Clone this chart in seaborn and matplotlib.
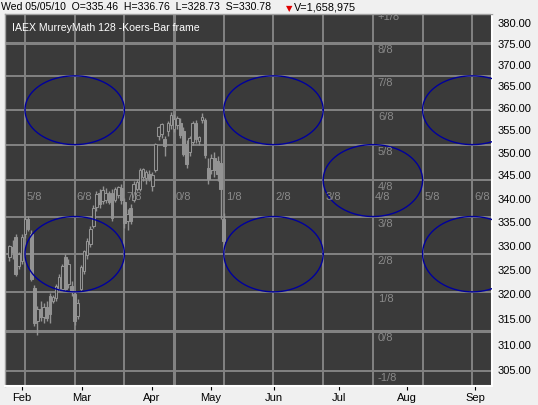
import matplotlib
matplotlib.use("Agg")
import matplotlib.pyplot as plt
import matplotlib.ticker as mticker
import seaborn as sns
import numpy as np
import pandas as pd

# ---- data: daily bars, bar 0 = first Murrey time line ----
bar_start = -5
opens = [327.5, 329.5, 331.6, 325.6, 326.6, 332.2, 335.4, 332.2, 321.0, 314.5,
         316.8, 315.2, 317.2, 319.4, 318.4, 319.0, 320.9, 320.9, 327.4, 321.9,
         321.5, 319.8, 315.5, 320.9, 324.6, 327.8, 330.2, 334.0, 338.0, 341.0,
         339.3, 339.5, 341.0, 341.0, 339.5, 340.5, 342.0, 339.0, 335.0, 337.8,
         339.5, 341.8, 341.8, 344.5, 344.2, 345.0, 342.5, 346.0, 353.4, 353.9,
         352.8, 354.5, 356.0, 355.0, 356.0, 356.5, 354.5, 351.6, 350.0, 352.2,
         356.3, 352.4, 357.0, 357.0, 346.5, 346.0, 348.6, 348.0, 347.5, 335.46]
highs = [330.0, 331.0, 332.2, 328.5, 332.2, 336.0, 336.0, 333.0, 321.8, 317.5,
         318.5, 318.0, 318.5, 320.0, 319.6, 322.0, 324.0, 326.0, 328.0, 327.0,
         322.5, 320.5, 318.8, 325.8, 329.0, 331.5, 334.0, 338.3, 341.5, 341.8,
         342.5, 342.0, 341.5, 341.8, 342.3, 342.5, 343.0, 340.0, 337.5, 338.6,
         343.5, 344.0, 346.5, 346.5, 346.0, 346.0, 345.5, 352.0, 355.8, 356.5,
         353.5, 356.8, 359.0, 358.4, 358.0, 357.5, 355.5, 352.5, 353.5, 356.8,
         357.0, 353.5, 358.7, 357.6, 348.5, 349.5, 350.0, 349.0, 351.5, 336.76]
lows = [326.6, 327.0, 323.5, 325.0, 326.0, 331.5, 332.8, 322.5, 313.5, 311.7,
        314.5, 314.0, 314.5, 314.0, 318.0, 318.5, 320.4, 320.4, 320.4, 321.0,
        319.5, 313.6, 314.8, 320.5, 324.0, 327.0, 329.5, 333.5, 337.2, 337.8,
        338.5, 338.8, 338.5, 335.0, 339.0, 340.0, 338.5, 333.5, 333.0, 334.3,
        339.0, 341.5, 341.5, 343.5, 343.0, 343.5, 341.5, 345.5, 352.5, 353.0,
        349.0, 353.5, 355.0, 354.3, 355.0, 353.0, 349.0, 346.5, 349.0, 351.5,
        352.0, 351.5, 356.5, 348.5, 343.0, 345.0, 344.5, 343.5, 335.4, 328.73]
closes = [329.8, 328.5, 323.9, 328.0, 331.6, 335.4, 333.3, 323.0, 314.0, 316.8,
          315.2, 317.2, 315.0, 315.8, 319.2, 321.5, 323.3, 325.5, 320.9, 326.0,
          320.2, 314.5, 318.0, 325.3, 328.7, 330.8, 333.3, 337.8, 340.8, 338.5,
          341.7, 341.0, 339.0, 335.7, 341.8, 342.3, 339.5, 334.5, 336.5, 335.0,
          343.0, 343.4, 345.9, 346.2, 345.6, 344.0, 344.8, 351.7, 355.5, 356.2,
          351.2, 356.5, 358.3, 357.2, 357.6, 353.6, 349.5, 347.3, 353.0, 356.3,
          352.8, 353.2, 357.8, 349.2, 344.1, 348.6, 346.0, 345.0, 341.8, 330.78]

# Murrey Math price octaves (128 frame)
mm_prices = [304.6875, 312.5, 320.3125, 328.125, 335.9375, 343.75, 351.5625,
             359.375, 367.1875, 375.0, 382.8125]
mm_labels = ['-1/8', '0/8', '1/8', '2/8', '3/8', '4/8', '5/8', '6/8', '7/8', '8/8', '+1/8']

# Murrey Math time lines (in bars)
time_lines = [0, 16, 32, 48, 64, 80, 96, 112, 128, 144]
time_labels = ['5/8', '6/8', '7/8', '0/8', '1/8', '2/8', '3/8', '4/8', '5/8', '6/8']

# ellipses: centre time line and centre octave
ell_time = [16, 80, 144, 16, 80, 144, 112]
ell_level = ['6/8', '6/8', '6/8', '2/8', '2/8', '2/8', '4/8']

month_pos = [-1, 18.3, 40.8, 59.8, 80.1, 101, 123, 145]
month_names = ['Feb', 'Mar', 'Apr', 'May', 'Jun', 'Jul', 'Aug', 'Sep']
price_ticks = [305, 310, 315, 320, 325, 330, 335, 340, 345, 350, 355, 360, 365, 370, 375, 380]

# ---- style ----
sns.set_theme(style="dark")
plt.rcParams['font.family'] = ['Liberation Sans', 'DejaVu Sans']

panel = '#3a3a3a'
candle = '#939393'
gridc = '#828282'
navy = '#00009c'

bars = pd.DataFrame({'open': opens, 'high': highs, 'low': lows, 'close': closes})
bars['idx'] = np.arange(bar_start, bar_start + len(bars))
bars['up'] = bars['close'] >= bars['open']

fig = plt.figure(figsize=(5.38, 4.06), dpi=100, facecolor='#f0f0f0')
W, H = 538, 406
ax = fig.add_axes([5 / W, 19 / H, 487 / W, 372.3 / H])
ax.set_facecolor(panel)
ax.set_yscale('log')
ax.set_xlim(-6.44, 150.35)
ax.set_ylim(301.8, 381.9)

# grid
for p, lab in zip(mm_prices, mm_labels):
    lw = 2.2 if lab in ('0/8', '8/8') else 1.4
    ax.axhline(p, color=gridc, lw=lw, zorder=1)
for t, lab in zip(time_lines, time_labels):
    lw = 2.2 if lab == '0/8' else 1.4
    ax.axvline(t, color=gridc, lw=lw, zorder=1)

# candles
ax.vlines(bars['idx'], bars['low'], bars['high'], color=candle, lw=1.0, zorder=2)
body_lo = bars[['open', 'close']].min(axis=1)
body_h = (bars['close'] - bars['open']).abs()
faces = [panel if u else candle for u in bars['up']]
ax.bar(bars['idx'], body_h, bottom=body_lo, width=0.85, color=faces,
       edgecolor=candle, linewidth=0.75, zorder=3)

# ellipses
step = mm_prices[1] - mm_prices[0]
t = np.linspace(0, 2 * np.pi, 240)
rows = []
for k, (tc, lv) in enumerate(zip(ell_time, ell_level)):
    pc = mm_prices[mm_labels.index(lv)]
    rows.append(pd.DataFrame({'x': tc + 16 * np.cos(t), 'y': pc + step * np.sin(t), 'id': k}))
ell = pd.concat(rows)
sns.lineplot(data=ell, x='x', y='y', units='id', estimator=None, sort=False,
             color=navy, lw=1.0, legend=False, ax=ax, zorder=4)

# octave labels
for p, lab in zip(mm_prices, mm_labels):
    ax.annotate(lab, (time_lines[7], p), xytext=(5, -1), textcoords='offset pixels',
                ha='left', va='top', fontsize=8, color='#8a8a8a', zorder=5,
                annotation_clip=False, clip_on=True)
p48 = mm_prices[mm_labels.index('4/8')]
for tl, lab in zip(time_lines, time_labels):
    ax.annotate(lab, (tl, p48), xytext=(2, -11), textcoords='offset pixels',
                ha='left', va='top', fontsize=8, color='#8a8a8a', zorder=5,
                annotation_clip=False, clip_on=True)

# axes
ax.set_xlabel('')
ax.set_ylabel('')
ax.yaxis.tick_right()
ax.yaxis.set_minor_locator(mticker.NullLocator())
ax.set_yticks(price_ticks)
ax.set_yticklabels([f"{p:.2f}" for p in price_ticks])
ax.set_xticks(month_pos)
ax.set_xticklabels(month_names)
ax.tick_params(axis='y', length=0, pad=4, labelsize=8, colors='black')
ax.tick_params(axis='x', length=3, width=0.8, pad=1.5, labelsize=8, colors='black',
               bottom=True, direction='out')
ax.grid(False)
for s in ('top', 'left'):
    ax.spines[s].set_color('#a0a0a0')
    ax.spines[s].set_linewidth(1.0)
for s in ('right', 'bottom'):
    ax.spines[s].set_color('white')
    ax.spines[s].set_linewidth(1.5)

# header and title
fig.text(1 / W, 1 - 7 / H, "Wed 05/05/10  O=335.46  H=336.76  L=328.73  S=330.78",
         ha='left', va='center', fontsize=7.6, color='black')
fig.text(289 / W, 1 - 9 / H, "\u25BC", ha='center', va='center', fontsize=6,
         color='#e00000', family='DejaVu Sans')
fig.text(294 / W, 1 - 7 / H, "V=1,658,975", ha='left', va='center', fontsize=7.8, color='black')
fig.text(12 / W, 1 - 28 / H, "IAEX MurreyMath 128 -Koers-Bar frame",
         ha='left', va='center', fontsize=7.6, color='white')

fig.savefig('out.png', dpi=100, facecolor=fig.get_facecolor())
